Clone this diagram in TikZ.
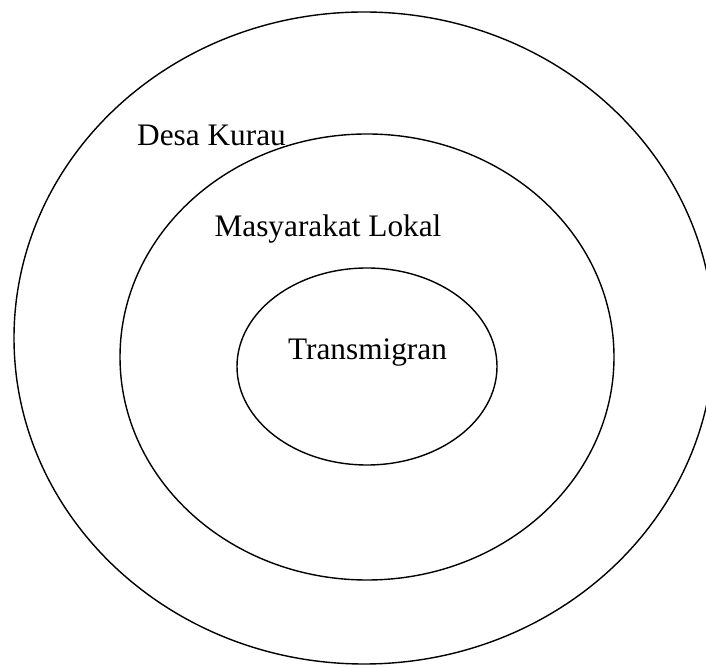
\documentclass[tikz,border=0pt]{standalone}
\usepackage{fontspec}
\setmainfont{Liberation Serif}
\usetikzlibrary{shapes.geometric}
\begin{document}
\begin{tikzpicture}[x=1pt,y=1pt,
  ring/.style={draw, ellipse, line width=1.4pt, inner sep=0pt},
  lbl/.style={font=\fontsize{31.3}{37}\selectfont, anchor=base, inner sep=0pt}]
\useasboundingbox (0,0) rectangle (706,666);
\clip (0,0) rectangle (706,666);
\fill[white] (0,0) rectangle (706,666);
\node[ring, minimum width=700pt, minimum height=652pt] (desa) at (364,328) {};
\node[ring, minimum width=494pt, minimum height=446pt] (lokal) at (367,309) {};
\node[ring, minimum width=260pt, minimum height=197pt] (trans) at (367,299.5) {};
\node[lbl] (tdesa) at (211.5,520) {Desa Kurau};
\node[lbl] (tlokal) at (328,429) {Masyarakat Lokal};
\node[lbl] (ttrans) at (367.5,306) {Transmigran};
\end{tikzpicture}
\end{document}
